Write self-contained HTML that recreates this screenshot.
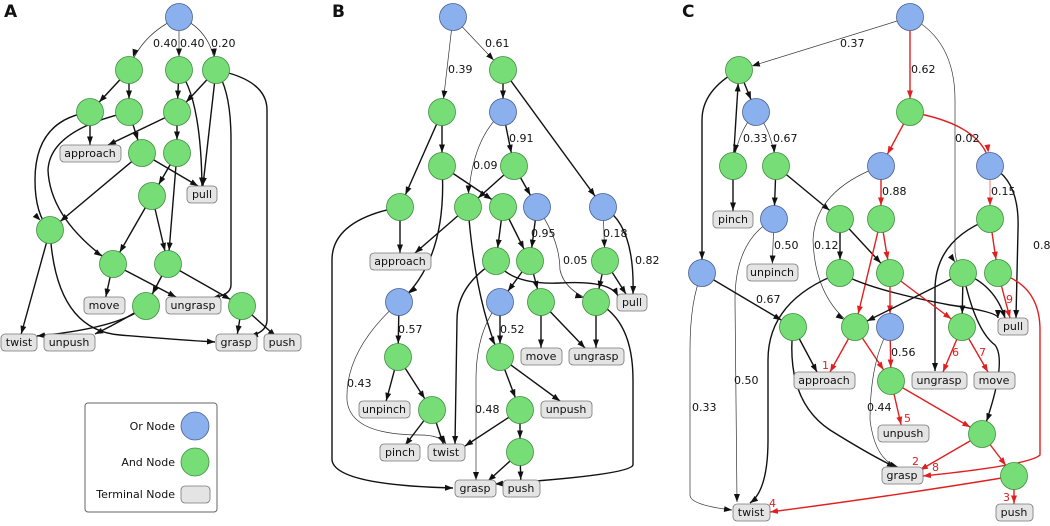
<!DOCTYPE html>
<html><head><meta charset="utf-8"><style>
html,body{margin:0;padding:0;background:#fff}
svg{display:block;font-family:"DejaVu Sans","Liberation Sans",sans-serif}
.k{fill:none;stroke:#111;stroke-width:1.4}
.h{fill:none;stroke:#333;stroke-width:0.7}
.r{fill:none;stroke:#e02020;stroke-width:1.4}
.g{fill:#77dd77;stroke:#3f8f3f;stroke-width:0.8}
.b{fill:#8ab0ee;stroke:#4a5f90;stroke-width:0.8}
.t{fill:#e4e4e4;stroke:#777;stroke-width:0.8}
text{font-size:11px;fill:#111}
.tl{text-anchor:middle}
.rn{fill:#e02020;font-size:11px}
</style></head><body>
<svg width="1050" height="526" viewBox="0 0 1050 526" xmlns="http://www.w3.org/2000/svg">
<defs>
<marker id="a" markerUnits="userSpaceOnUse" markerWidth="30" markerHeight="10" refX="21.5" refY="3" orient="auto" viewBox="0 0 30 6"><path d="M0,0 L8,3 L0,6z" fill="#111"/></marker>
<marker id="t" markerUnits="userSpaceOnUse" markerWidth="30" markerHeight="10" refX="16.5" refY="3" orient="auto" viewBox="0 0 30 6"><path d="M0,0 L8,3 L0,6z" fill="#111"/></marker>
<marker id="e" markerUnits="userSpaceOnUse" markerWidth="10" markerHeight="10" refX="8" refY="3" orient="auto" viewBox="0 0 10 6"><path d="M0,0 L8,3 L0,6z" fill="#111"/></marker>
<marker id="ra" markerUnits="userSpaceOnUse" markerWidth="30" markerHeight="10" refX="21.5" refY="3" orient="auto" viewBox="0 0 30 6"><path d="M0,0 L8,3 L0,6z" fill="#e02020"/></marker>
<marker id="rt" markerUnits="userSpaceOnUse" markerWidth="30" markerHeight="10" refX="16.5" refY="3" orient="auto" viewBox="0 0 30 6"><path d="M0,0 L8,3 L0,6z" fill="#e02020"/></marker>
<marker id="re" markerUnits="userSpaceOnUse" markerWidth="10" markerHeight="10" refX="8" refY="3" orient="auto" viewBox="0 0 10 6"><path d="M0,0 L8,3 L0,6z" fill="#e02020"/></marker>
</defs>

<!-- ===== Panel A ===== -->
<text x="4" y="17" style="font-size:17px;font-weight:bold">A</text>
<g>
<path class="h" marker-end="url(#a)" d="M179,17 Q140,35 129,70"/>
<path class="h" marker-end="url(#a)" d="M179,17 L179,70"/>
<path class="h" marker-end="url(#a)" d="M179,17 Q212,30 216,70"/>
<path class="k" marker-end="url(#a)" d="M129,70 L90,112"/>
<path class="k" marker-end="url(#a)" d="M129,70 L129,112"/>
<path class="k" marker-end="url(#a)" d="M179,70 L177,112"/>
<path class="k" marker-end="url(#t)" d="M179,70 Q202,100 202,194"/>
<path class="k" marker-end="url(#a)" d="M216,70 L177,112"/>
<path class="k" marker-end="url(#t)" d="M216,70 L202,194"/>
<path class="k" marker-end="url(#e)" d="M216,70 Q231,90 231,140 L231,285 Q231,295 212,298"/>
<path class="k" marker-end="url(#e)" d="M216,70 Q267,80 267,110 L267,320 Q267,332 250,336"/>
<path class="k" marker-end="url(#t)" d="M90,112 L90,153"/>
<path class="k" marker-end="url(#a)" d="M90,112 Q35,120 35,180 Q35,215 50,230"/>
<path class="k" marker-end="url(#a)" d="M129,112 L142,153"/>
<path class="k" marker-end="url(#a)" d="M129,112 Q50,130 48,170 Q50,220 113,264"/>
<path class="k" marker-end="url(#e)" d="M177,112 L108,145"/>
<path class="k" marker-end="url(#a)" d="M177,112 L177,153"/>
<path class="k" marker-end="url(#e)" d="M142,153 L198,186"/>
<path class="k" marker-end="url(#a)" d="M142,153 L50,230"/>
<path class="k" marker-end="url(#a)" d="M177,153 L152,196"/>
<path class="k" marker-end="url(#a)" d="M177,153 L168,264"/>
<path class="k" marker-end="url(#a)" d="M152,196 L113,264"/>
<path class="k" marker-end="url(#a)" d="M152,196 L168,264"/>
<path class="k" marker-end="url(#t)" d="M50,230 L19,342"/>
<path class="k" marker-end="url(#e)" d="M50,230 Q55,330 120,335 Q180,340 215,342"/>
<path class="k" marker-end="url(#t)" d="M113,264 L104,305"/>
<path class="k" marker-end="url(#e)" d="M113,264 L176,297"/>
<path class="k" marker-end="url(#a)" d="M168,264 L146,306"/>
<path class="k" marker-end="url(#a)" d="M168,264 L242,306"/>
<path class="k" marker-end="url(#e)" d="M146,306 Q120,328 37,336"/>
<path class="k" marker-end="url(#e)" d="M146,306 Q120,322 95,334"/>
<path class="k" marker-end="url(#t)" d="M242,306 L236,342"/>
<path class="k" marker-end="url(#t)" d="M242,306 L282,342"/>
</g>
<text x="153" y="47">0.40</text><text x="180" y="47">0.40</text><text x="211" y="47">0.20</text>
<circle class="b" cx="179" cy="17" r="13.5"/>
<circle class="g" cx="129" cy="70" r="13.5"/><circle class="g" cx="179" cy="70" r="13.5"/><circle class="g" cx="216" cy="70" r="13.5"/>
<circle class="g" cx="90" cy="112" r="13.5"/><circle class="g" cx="129" cy="112" r="13.5"/><circle class="g" cx="177" cy="112" r="13.5"/>
<circle class="g" cx="142" cy="153" r="13.5"/><circle class="g" cx="177" cy="153" r="13.5"/>
<circle class="g" cx="152" cy="196" r="13.5"/><circle class="g" cx="50" cy="230" r="13.5"/>
<circle class="g" cx="113" cy="264" r="13.5"/><circle class="g" cx="168" cy="264" r="13.5"/>
<circle class="g" cx="146" cy="306" r="13.5"/><circle class="g" cx="242" cy="306" r="13.5"/>
<rect class="t" x="60" y="145" width="61" height="17" rx="4"/><text class="tl" x="90" y="157">approach</text>
<rect class="t" x="187" y="186" width="30" height="17" rx="4"/><text class="tl" x="202" y="198">pull</text>
<rect class="t" x="84" y="297" width="41" height="17" rx="4"/><text class="tl" x="104" y="309">move</text>
<rect class="t" x="166" y="297" width="55" height="17" rx="4"/><text class="tl" x="193" y="309">ungrasp</text>
<rect class="t" x="1" y="334" width="36" height="17" rx="4"/><text class="tl" x="19" y="346">twist</text>
<rect class="t" x="44" y="334" width="51" height="17" rx="4"/><text class="tl" x="69" y="346">unpush</text>
<rect class="t" x="216" y="334" width="41" height="17" rx="4"/><text class="tl" x="236" y="346">grasp</text>
<rect class="t" x="264" y="334" width="37" height="17" rx="4"/><text class="tl" x="282" y="346">push</text>

<!-- legend -->
<rect x="85" y="403" width="132" height="109" rx="3" fill="#fff" stroke="#666" stroke-width="1"/>
<text x="175" y="430" text-anchor="end">Or Node</text><circle class="b" cx="195" cy="426" r="14"/>
<text x="175" y="466" text-anchor="end">And Node</text><circle class="g" cx="195" cy="462" r="14"/>
<text x="175" y="498" text-anchor="end">Terminal Node</text><rect class="t" x="181" y="486" width="29" height="17" rx="4"/>

<!-- ===== Panel B ===== -->
<text x="332" y="17" style="font-size:17px;font-weight:bold">B</text>
<g>
<path class="h" marker-end="url(#a)" d="M453,17 L442,112"/>
<path class="h" marker-end="url(#a)" d="M453,17 L503,70"/>
<path class="k" marker-end="url(#a)" d="M503,70 L503,112"/>
<path class="k" marker-end="url(#a)" d="M503,70 L603,207"/>
<path class="k" marker-end="url(#a)" d="M442,112 L442,166"/>
<path class="k" marker-end="url(#a)" d="M442,112 L400,207"/>
<path class="h" marker-end="url(#a)" d="M503,112 Q470,140 468,207"/>
<path class="k" marker-end="url(#a)" d="M503,112 L514,166"/>
<path class="k" marker-end="url(#a)" d="M442,166 L503,207"/>
<path class="k" marker-end="url(#a)" d="M442,166 Q448,260 399,302"/>
<path class="k" marker-end="url(#a)" d="M514,166 L468,207"/>
<path class="k" marker-end="url(#a)" d="M514,166 L537,207"/>
<path class="k" marker-end="url(#t)" d="M400,207 L400,261"/>
<path class="k" marker-end="url(#e)" d="M400,207 Q332,220 332,260 L332,460 Q335,485 453,488"/>
<path class="k" marker-end="url(#e)" d="M468,207 L415,253"/>
<path class="k" marker-end="url(#a)" d="M468,207 Q475,300 500,357"/>
<path class="k" marker-end="url(#a)" d="M503,207 L496,261"/>
<path class="k" marker-end="url(#a)" d="M503,207 L530,261"/>
<path class="k" marker-end="url(#a)" d="M537,207 L530,261"/>
<path class="h" marker-end="url(#a)" d="M537,207 Q560,240 560,270 Q565,292 596,302"/>
<path class="h" marker-end="url(#a)" d="M603,207 L605,261"/>
<path class="k" marker-end="url(#e)" d="M603,207 Q635,225 633,294"/>
<path class="k" marker-end="url(#e)" d="M496,261 Q457,285 457,320 L455,444"/>
<path class="k" marker-end="url(#e)" d="M496,261 Q510,285 560,283 Q610,280 618,296"/>
<path class="k" marker-end="url(#a)" d="M530,261 L500,302"/>
<path class="k" marker-end="url(#a)" d="M530,261 L541,302"/>
<path class="k" marker-end="url(#a)" d="M605,261 L596,302"/>
<path class="k" marker-end="url(#e)" d="M605,261 L626,294"/>
<path class="k" marker-end="url(#a)" d="M399,302 L398,357"/>
<path class="h" marker-end="url(#e)" d="M399,302 Q345,350 347,400 Q350,435 420,435 Q440,435 446,444"/>
<path class="k" marker-end="url(#a)" d="M500,302 L500,357"/>
<path class="h" marker-end="url(#e)" d="M500,302 Q476,330 476,380 L476,480"/>
<path class="k" marker-end="url(#t)" d="M541,302 L541,356"/>
<path class="k" marker-end="url(#e)" d="M541,302 L585,348"/>
<path class="k" marker-end="url(#t)" d="M596,302 L596,356"/>
<path class="k" marker-end="url(#e)" d="M596,302 Q633,320 633,380 L633,465 Q630,475 495,484"/>
<path class="k" marker-end="url(#t)" d="M398,357 L384,409"/>
<path class="k" marker-end="url(#a)" d="M398,357 L432,410"/>
<path class="k" marker-end="url(#a)" d="M500,357 L520,410"/>
<path class="k" marker-end="url(#e)" d="M500,357 L560,401"/>
<path class="k" marker-end="url(#t)" d="M432,410 L400,452"/>
<path class="k" marker-end="url(#t)" d="M432,410 L446,452"/>
<path class="k" marker-end="url(#e)" d="M520,410 L465,446"/>
<path class="k" marker-end="url(#a)" d="M520,410 L520,452"/>
<path class="k" marker-end="url(#e)" d="M520,452 L488,481"/>
<path class="k" marker-end="url(#t)" d="M520,452 L521,488"/>
</g>
<text x="485" y="47">0.61</text><text x="448" y="73">0.39</text><text x="509" y="142">0.91</text><text x="473" y="169">0.09</text>
<text x="531" y="237">0.95</text><text x="603" y="237">0.18</text><text x="563" y="264">0.05</text><text x="635" y="264">0.82</text>
<text x="398" y="333">0.57</text><text x="500" y="333">0.52</text><text x="347" y="387">0.43</text><text x="475" y="413">0.48</text>
<circle class="b" cx="453" cy="17" r="13.5"/>
<circle class="g" cx="503" cy="70" r="13.5"/>
<circle class="g" cx="442" cy="112" r="13.5"/><circle class="b" cx="503" cy="112" r="13.5"/>
<circle class="g" cx="442" cy="166" r="13.5"/><circle class="g" cx="514" cy="166" r="13.5"/>
<circle class="g" cx="400" cy="207" r="13.5"/><circle class="g" cx="468" cy="207" r="13.5"/><circle class="g" cx="503" cy="207" r="13.5"/><circle class="b" cx="537" cy="207" r="13.5"/><circle class="b" cx="603" cy="207" r="13.5"/>
<circle class="g" cx="496" cy="261" r="13.5"/><circle class="g" cx="530" cy="261" r="13.5"/><circle class="g" cx="605" cy="261" r="13.5"/>
<circle class="b" cx="399" cy="302" r="13.5"/><circle class="b" cx="500" cy="302" r="13.5"/><circle class="g" cx="541" cy="302" r="13.5"/><circle class="g" cx="596" cy="302" r="13.5"/>
<circle class="g" cx="398" cy="357" r="13.5"/><circle class="g" cx="500" cy="357" r="13.5"/>
<circle class="g" cx="432" cy="410" r="13.5"/><circle class="g" cx="520" cy="410" r="13.5"/><circle class="g" cx="520" cy="452" r="13.5"/>
<rect class="t" x="370" y="253" width="61" height="17" rx="4"/><text class="tl" x="400" y="265">approach</text>
<rect class="t" x="617" y="294" width="30" height="17" rx="4"/><text class="tl" x="632" y="306">pull</text>
<rect class="t" x="521" y="348" width="41" height="17" rx="4"/><text class="tl" x="541" y="360">move</text>
<rect class="t" x="569" y="348" width="55" height="17" rx="4"/><text class="tl" x="596" y="360">ungrasp</text>
<rect class="t" x="359" y="401" width="51" height="17" rx="4"/><text class="tl" x="384" y="413">unpinch</text>
<rect class="t" x="541" y="401" width="51" height="17" rx="4"/><text class="tl" x="566" y="413">unpush</text>
<rect class="t" x="380" y="444" width="40" height="17" rx="4"/><text class="tl" x="400" y="456">pinch</text>
<rect class="t" x="428" y="444" width="37" height="17" rx="4"/><text class="tl" x="446" y="456">twist</text>
<rect class="t" x="455" y="480" width="41" height="17" rx="4"/><text class="tl" x="475" y="492">grasp</text>
<rect class="t" x="503" y="480" width="37" height="17" rx="4"/><text class="tl" x="521" y="492">push</text>

<!-- ===== Panel C ===== -->
<text x="682" y="17" style="font-size:17px;font-weight:bold">C</text>
<g>
<path class="h" marker-end="url(#a)" d="M910,17 L739,70"/>
<path class="r" marker-end="url(#ra)" d="M910,17 L910,112"/>
<path class="h" marker-end="url(#a)" d="M910,17 Q955,40 955,100 L955,250 Q955,262 963,273"/>
<path class="k" marker-end="url(#a)" d="M739,70 L756,112"/>
<path class="k" marker-end="url(#a)" d="M739,70 Q702,90 702,120 L702,273"/>
<path class="k" marker-end="url(#a)" d="M733,166 L739,70"/>
<path class="h" marker-end="url(#a)" d="M756,112 Q738,130 733,166"/>
<path class="h" marker-end="url(#a)" d="M756,112 Q772,130 776,166"/>
<path class="r" marker-end="url(#ra)" d="M910,112 L881,166"/>
<path class="r" marker-end="url(#ra)" d="M910,112 Q985,125 990,166"/>
<path class="k" marker-end="url(#t)" d="M733,166 L733,219"/>
<path class="k" marker-end="url(#a)" d="M776,166 L774,219"/>
<path class="k" marker-end="url(#a)" d="M776,166 L840,219"/>
<path class="h" marker-end="url(#a)" d="M881,166 Q815,190 813,240 Q815,300 855,327"/>
<path class="r" marker-end="url(#ra)" d="M881,166 L881,219"/>
<path class="r" style="stroke:#f0a0a0" marker-end="url(#ra)" d="M990,166 L990,219"/>
<path class="k" marker-end="url(#e)" d="M990,166 Q1020,180 1018,230 L1016,318"/>
<path class="h" marker-end="url(#t)" d="M774,219 L772,272"/>
<path class="h" marker-end="url(#e)" d="M774,219 Q735,240 735,300 L737,502"/>
<path class="k" marker-end="url(#a)" d="M840,219 L840,273"/>
<path class="k" marker-end="url(#a)" d="M840,219 L890,273"/>
<path class="r" marker-end="url(#ra)" d="M881,219 L855,327"/>
<path class="r" marker-end="url(#ra)" d="M881,219 L890,273"/>
<path class="k" marker-end="url(#e)" d="M990,219 Q935,240 935,290 L935,371"/>
<path class="r" marker-end="url(#ra)" d="M990,219 L998,273"/>
<path class="k" marker-end="url(#a)" d="M702,273 L793,327"/>
<path class="h" marker-end="url(#e)" d="M702,273 Q690,300 690,350 L690,495 Q690,505 732,510"/>
<path class="k" marker-end="url(#e)" d="M840,273 Q768,300 768,360 L768,440 Q768,490 750,503"/>
<path class="k" marker-end="url(#e)" d="M840,273 Q870,290 950,305 Q998,312 998,318"/>
<path class="r" marker-end="url(#ra)" d="M890,273 L890,327"/>
<path class="r" marker-end="url(#ra)" d="M890,273 L962,327"/>
<path class="k" marker-end="url(#a)" d="M963,273 L855,327"/>
<path class="k" marker-end="url(#a)" d="M963,273 L962,327"/>
<path class="k" marker-end="url(#e)" d="M963,273 Q995,285 1005,318"/>
<path class="k" marker-end="url(#a)" d="M963,273 Q975,330 995,345 Q1008,362 982,434"/>
<path class="r" marker-end="url(#re)" d="M998,273 L1010,318"/>
<path class="r" marker-end="url(#re)" d="M998,273 Q1040,285 1040,330 L1040,455 Q1030,465 923,476"/>
<path class="k" marker-end="url(#e)" d="M793,327 L817,372"/>
<path class="k" marker-end="url(#e)" d="M793,327 Q785,400 830,430 Q870,455 895,467"/>
<path class="r" marker-end="url(#re)" d="M855,327 L830,372"/>
<path class="r" marker-end="url(#ra)" d="M855,327 L891,381"/>
<path class="r" marker-end="url(#ra)" d="M890,327 L891,381"/>
<path class="h" marker-end="url(#e)" d="M890,327 Q870,360 870,420 Q875,460 898,467"/>
<path class="r" marker-end="url(#re)" d="M962,327 L943,372"/>
<path class="r" marker-end="url(#re)" d="M962,327 L988,372"/>
<path class="r" marker-end="url(#rt)" d="M891,381 L903,433"/>
<path class="r" marker-end="url(#ra)" d="M891,381 L982,434"/>
<path class="r" marker-end="url(#re)" d="M982,434 L920,470"/>
<path class="r" marker-end="url(#ra)" d="M982,434 L1014,476"/>
<path class="r" marker-end="url(#rt)" d="M1014,476 L1014,512"/>
<path class="r" marker-end="url(#re)" d="M1014,476 Q900,495 770,512"/>
</g>
<text x="840" y="47">0.37</text><text x="911" y="73">0.62</text><text x="743" y="142">0.33</text><text x="773" y="142">0.67</text>
<text x="955" y="142">0.02</text><text x="882" y="195">0.88</text><text x="991" y="195">0.15</text>
<text x="774" y="249">0.50</text><text x="814" y="249">0.12</text><text x="1033" y="249">0.85</text>
<text x="756" y="303">0.67</text><text x="891" y="356">0.56</text><text x="734" y="384">0.50</text><text x="692" y="411">0.33</text><text x="867" y="411">0.44</text>
<text class="rn" x="822" y="369">1</text><text class="rn" x="952" y="356">6</text><text class="rn" x="979" y="356">7</text><text class="rn" x="1006" y="303">9</text>
<text class="rn" x="904" y="422">5</text><text class="rn" x="912" y="465">2</text><text class="rn" x="932" y="471">8</text><text class="rn" x="1003" y="501">3</text><text class="rn" x="769" y="507">4</text>
<circle class="b" cx="910" cy="17" r="13.5"/>
<circle class="g" cx="739" cy="70" r="13.5"/>
<circle class="b" cx="756" cy="112" r="13.5"/><circle class="g" cx="910" cy="112" r="13.5"/>
<circle class="g" cx="733" cy="166" r="13.5"/><circle class="g" cx="776" cy="166" r="13.5"/><circle class="b" cx="881" cy="166" r="13.5"/><circle class="b" cx="990" cy="166" r="13.5"/>
<circle class="b" cx="774" cy="219" r="13.5"/><circle class="g" cx="840" cy="219" r="13.5"/><circle class="g" cx="881" cy="219" r="13.5"/><circle class="g" cx="990" cy="219" r="13.5"/>
<circle class="b" cx="702" cy="273" r="13.5"/><circle class="g" cx="840" cy="273" r="13.5"/><circle class="g" cx="890" cy="273" r="13.5"/><circle class="g" cx="963" cy="273" r="13.5"/><circle class="g" cx="998" cy="273" r="13.5"/>
<circle class="g" cx="793" cy="327" r="13.5"/><circle class="g" cx="855" cy="327" r="13.5"/><circle class="b" cx="890" cy="327" r="13.5"/><circle class="g" cx="962" cy="327" r="13.5"/>
<circle class="g" cx="891" cy="381" r="13.5"/><circle class="g" cx="982" cy="434" r="13.5"/><circle class="g" cx="1014" cy="476" r="13.5"/>
<rect class="t" x="713" y="211" width="40" height="17" rx="4"/><text class="tl" x="733" y="223">pinch</text>
<rect class="t" x="747" y="264" width="51" height="17" rx="4"/><text class="tl" x="772" y="276">unpinch</text>
<rect class="t" x="998" y="318" width="30" height="17" rx="4"/><text class="tl" x="1013" y="330">pull</text>
<rect class="t" x="794" y="372" width="61" height="17" rx="4"/><text class="tl" x="824" y="384">approach</text>
<rect class="t" x="912" y="372" width="55" height="17" rx="4"/><text class="tl" x="939" y="384">ungrasp</text>
<rect class="t" x="974" y="372" width="41" height="17" rx="4"/><text class="tl" x="994" y="384">move</text>
<rect class="t" x="878" y="425" width="51" height="17" rx="4"/><text class="tl" x="903" y="437">unpush</text>
<rect class="t" x="882" y="467" width="41" height="17" rx="4"/><text class="tl" x="902" y="479">grasp</text>
<rect class="t" x="733" y="504" width="37" height="17" rx="4"/><text class="tl" x="751" y="516">twist</text>
<rect class="t" x="996" y="504" width="37" height="17" rx="4"/><text class="tl" x="1014" y="516">push</text>
</svg>
</body></html>
